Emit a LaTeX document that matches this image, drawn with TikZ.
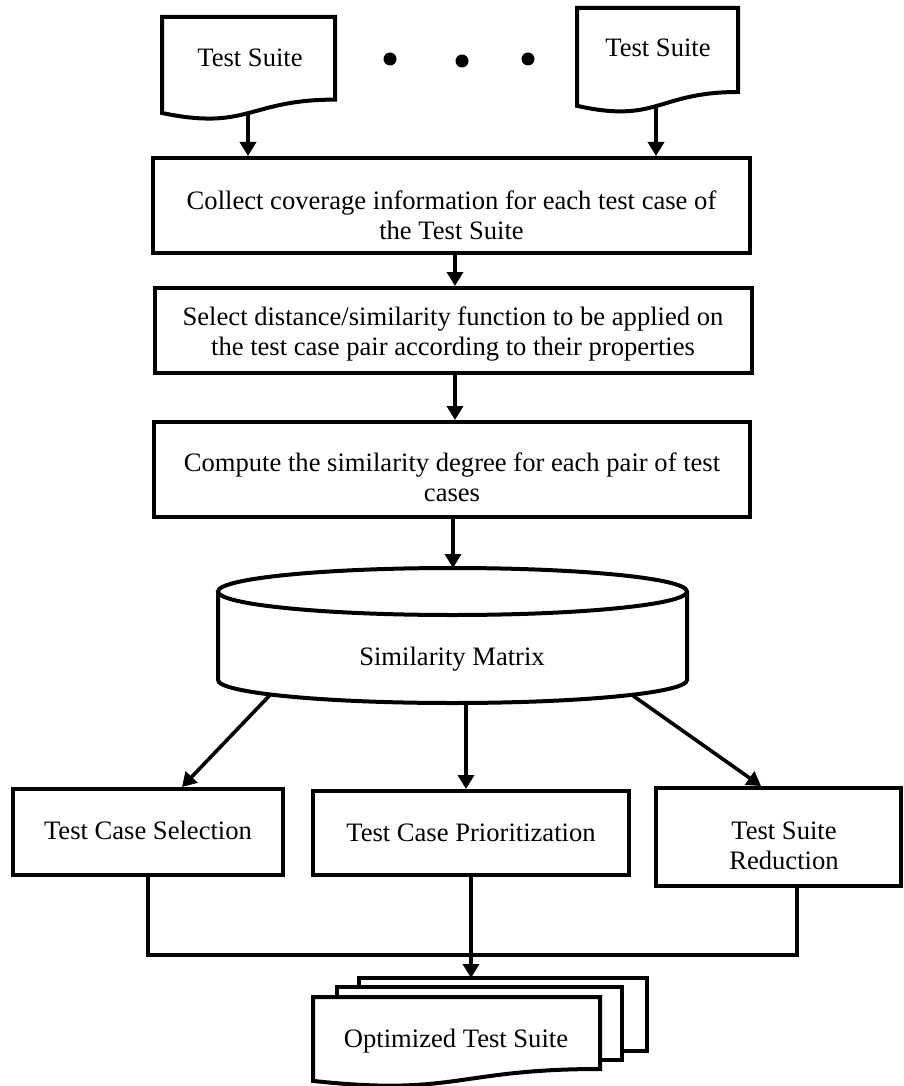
\documentclass[tikz,border=0pt]{standalone}
\usepackage{fontspec}
\setmainfont{Liberation Serif}
\usetikzlibrary{arrows.meta}
\begin{document}
\begin{tikzpicture}[x=1pt,y=-1pt,
  box/.style={draw, line width=4pt, fill=white, inner sep=0pt},
  lbl/.style={inner sep=0pt, align=center, font=\fontsize{26.6}{30}\selectfont},
  arr/.style={line width=3.6pt, -{Triangle[width=16pt,length=14pt]}},
  wire/.style={line width=3.2pt},
  outline/.style={line width=4pt, line join=miter, fill=white},
  dot/.style={circle, fill, inner sep=0pt, minimum size=13pt},
]
\useasboundingbox (0,0) rectangle (904,1086);

% input test suites (flowchart document shapes)
\draw[outline] (162,17) -- (335,17) -- (335,99.6)
  .. controls (248.5,99.6) and (248.5,131) .. (162,113) -- cycle;
\node[lbl] (ts1) at (250,58) {Test Suite};
\coordinate (d1b) at (248,113);

\draw[outline] (577,8) -- (738,8) -- (738,92)
  .. controls (657.5,92) and (657.5,124) .. (577,105.8) -- cycle;
\node[lbl] (ts2) at (658,48) {Test Suite};
\coordinate (d2b) at (656,106);

\node[dot] (dt1) at (390,59) {};
\node[dot] (dt2) at (462,61) {};
\node[dot] (dt3) at (528,59) {};

% processing steps
\node[box, minimum width=597pt, minimum height=95pt] (b1) at (451.5,205.5) {};
\node[lbl] (b1t) at (451.5,215) {Collect coverage information for each test case of\\the Test Suite};

\node[box, minimum width=597pt, minimum height=85pt] (b2) at (453.5,330.5) {};
\node[lbl] (b2t) at (453,334.5) {Select distance/similarity function to be applied on\\the test case pair according to their properties};

\node[box, minimum width=596pt, minimum height=95pt] (b3) at (452,469.5) {};
\node[lbl] (b3t) at (452,477) {Compute the similarity degree for each pair of test\\cases};

% similarity matrix (cylinder)
\draw[outline] (218,591.5) -- (218,680)
  arc[start angle=180, end angle=360, x radius=234.5pt, y radius=23pt]
  -- (687,591.5);
\draw[outline] (452.5,591.5) ellipse[x radius=234.5pt, y radius=23.5pt];
\node[lbl] (sim) at (452,659) {Similarity Matrix};
\coordinate (cT) at (453,568);
\coordinate (cL) at (271,694);
\coordinate (cM) at (466,703);
\coordinate (cR) at (632,695);

% applications
\node[box, minimum width=270pt, minimum height=86pt] (sel) at (148,832) {};
\node[lbl] (selt) at (148,830) {Test Case Selection};
\node[box, minimum width=316pt, minimum height=84pt] (pri) at (471,833) {};
\node[lbl] (prit) at (471,833) {Test Case Prioritization};
\node[box, minimum width=245pt, minimum height=98pt] (red) at (778.5,837) {};
\node[lbl] (redt) at (784,846) {Test Suite\\Reduction};

% optimized output (multi-document)
\draw[outline] (359,978) rectangle (647,1051);
\draw[outline] (337,987) rectangle (622,1060);
\draw[outline] (313,997) -- (600,997) -- (600,1069)
  .. controls (456.5,1069) and (456.5,1096.4) .. (313,1080.9) -- cycle;
\node[lbl] (opt) at (456,1041) {Optimized Test Suite};
\coordinate (optTop) at (471,978);

% connectors
\draw[arr] (d1b) -- (d1b |- b1.north);
\draw[arr] (d2b) -- (d2b |- b1.north);
\draw[arr] ([xshift=3.5pt]b1.south) -- ([xshift=3.5pt]b1.south |- b2.north);
\draw[arr] ([xshift=1.5pt]b2.south) -- ([xshift=1.5pt]b2.south |- b3.north);
\draw[arr] (b3.south -| cT) -- (cT);
\draw[arr] (cL) -- ([xshift=34pt]sel.north);
\draw[arr] (cM) -- (cM |- pri.north);
\draw[arr] (cR) -- ([xshift=-17.5pt]red.north);

\coordinate (join) at (0,955);
\coordinate (redx) at ([xshift=18.5pt]red.south);
\draw[wire] (sel.south) -- (sel.south |- join) -- (redx |- join) -- (redx);
\draw[arr] (pri.south) -- (optTop);
\end{tikzpicture}
\end{document}
